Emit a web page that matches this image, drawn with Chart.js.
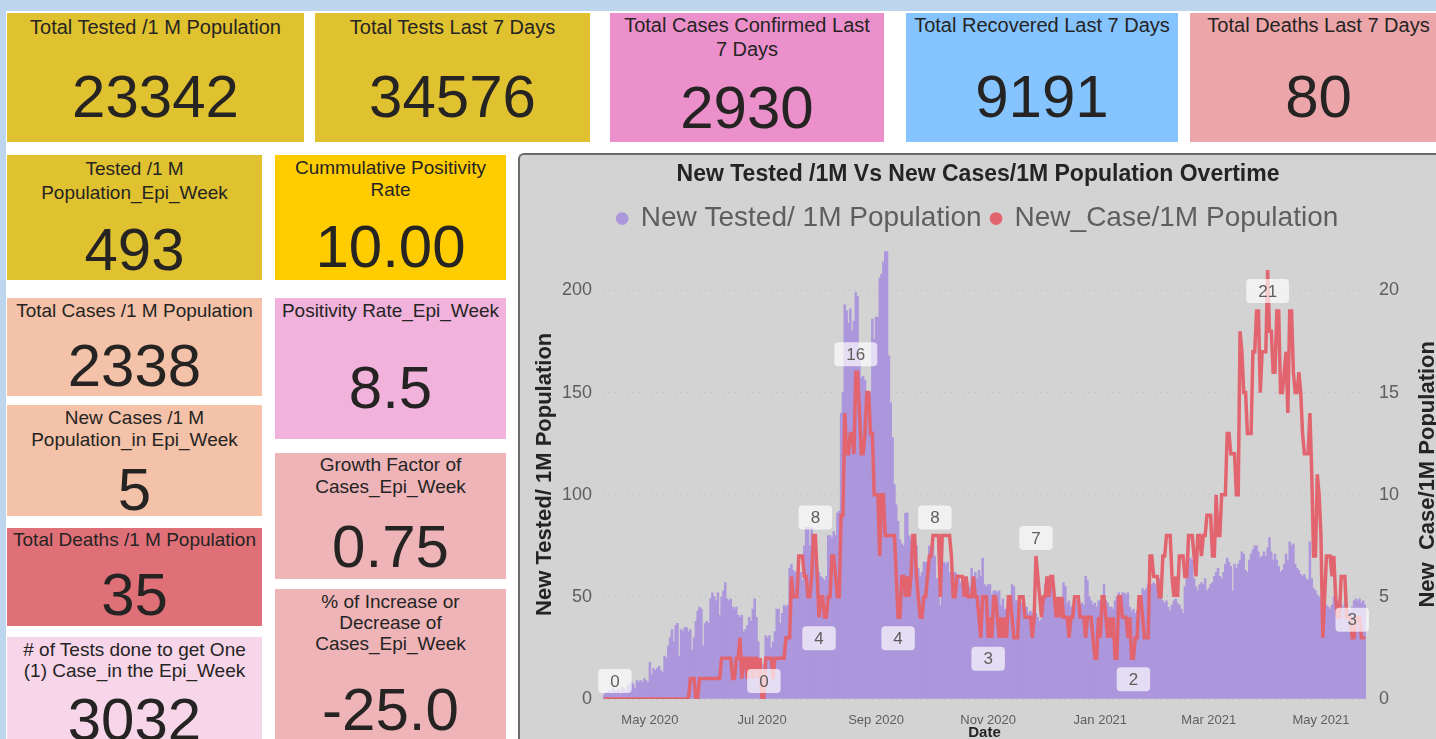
<!DOCTYPE html>
<html>
<head>
<meta charset="utf-8">
<script src="https://cdn.jsdelivr.net/npm/chart.js@4.4.0/dist/chart.umd.min.js"></script>
<style>
  body { margin:0; width:1436px; height:739px; overflow:hidden; background:#fff; position:relative;
         font-family:'Liberation Sans', Arial, sans-serif; color:#252423; }
  .strip { position:absolute; background:#BDD6EE; }
  .card { position:absolute; overflow:hidden; text-align:center; }
  .card .t { position:absolute; left:0; right:0; white-space:nowrap; }
  .card .v { position:absolute; left:0; right:0; font-size:60px; line-height:70px; }
  .top .t { font-size:20px; line-height:24px; }
  .mid .t { font-size:19px; line-height:22px; }
  #panel { position:absolute; left:518px; top:153px; width:930px; height:600px; background:#D3D3D3;
           border-left:2px solid #6b6b6b; border-top:2px solid #6b6b6b; border-top-left-radius:6px; }
  #c { position:absolute; left:520px; top:155px; }
</style>
</head>
<body>
<div class="strip" style="left:0;top:0;width:1436px;height:11px"></div>
<div class="strip" style="left:0;top:0;width:6px;height:739px"></div>

<div class="card top" style="left:7px;top:13px;width:297px;height:129px;background:#E0C12F">
  <div class="t" style="top:2px">Total Tested /1 M Population</div><div class="v" style="top:49px">23342</div></div>
<div class="card top" style="left:315px;top:13px;width:275px;height:129px;background:#E0C12F">
  <div class="t" style="top:2px">Total Tests Last 7 Days</div><div class="v" style="top:49px">34576</div></div>
<div class="card top" style="left:610px;top:13px;width:274px;height:129px;background:#EC90CC">
  <div class="t" style="top:0px">Total Cases Confirmed Last<br>7 Days</div><div class="v" style="top:60px">2930</div></div>
<div class="card top" style="left:906px;top:13px;width:272px;height:129px;background:#86C4FF">
  <div class="t" style="top:0px">Total Recovered Last 7 Days</div><div class="v" style="top:49px">9191</div></div>
<div class="card top" style="left:1190px;top:13px;width:257px;height:129px;background:#ECA6AA">
  <div class="t" style="top:0px">Total Deaths Last 7 Days</div><div class="v" style="top:49px">80</div></div>

<div class="card mid" style="left:7px;top:155px;width:255px;height:125px;background:#E0C12F">
  <div class="t" style="top:2px;line-height:24px">Tested /1 M<br>Population_Epi_Week</div><div class="v" style="top:60px">493</div></div>
<div class="card mid" style="left:275px;top:155px;width:231px;height:125px;background:#FFCC00">
  <div class="t" style="top:2px">Cummulative Positivity<br>Rate</div><div class="v" style="top:57px">10.00</div></div>
<div class="card mid" style="left:7px;top:298px;width:255px;height:98px;background:#F4C2A8">
  <div class="t" style="top:2px">Total Cases /1 M Population</div><div class="v" style="top:33px">2338</div></div>
<div class="card mid" style="left:275px;top:298px;width:231px;height:141px;background:#F1B3DB">
  <div class="t" style="top:2px">Positivity Rate_Epi_Week</div><div class="v" style="top:55px">8.5</div></div>
<div class="card mid" style="left:7px;top:405px;width:255px;height:111px;background:#F4C2A8">
  <div class="t" style="top:2px">New Cases /1 M<br>Population_in Epi_Week</div><div class="v" style="top:50px">5</div></div>
<div class="card mid" style="left:275px;top:453px;width:231px;height:126px;background:#EEB4B8">
  <div class="t" style="top:1px">Growth Factor of<br>Cases_Epi_Week</div><div class="v" style="top:59px">0.75</div></div>
<div class="card mid" style="left:7px;top:528px;width:255px;height:98px;background:#E07078">
  <div class="t" style="top:1px">Total Deaths /1 M Population</div><div class="v" style="top:32px">35</div></div>
<div class="card mid" style="left:275px;top:589px;width:231px;height:170px;background:#EEB4B8">
  <div class="t" style="top:2px;line-height:21px">% of Increase or<br>Decrease of<br>Cases_Epi_Week</div><div class="v" style="top:86px">-25.0</div></div>
<div class="card mid" style="left:7px;top:637px;width:255px;height:120px;background:#F8D6EA">
  <div class="t" style="top:2px;line-height:21px"># of Tests done to get One<br>(1) Case_in the Epi_Week</div><div class="v" style="top:48px">3032</div></div>

<div id="panel"></div>
<canvas id="c" width="916" height="589"></canvas>

<script>
// daily values from 6 Apr 2020 to 25 May 2021
const tested = [
  2,3,3,4,3,5,4,4,5,3,
  6,5,4,7,6,8,7,5,9,8,
  9,8,10,9,8,18,12,15,14,15,
  16,14,13,21,20,26,30,34,28,36,
  37,21,34,33,35,35,33,34,24,30,
  38,43,45,44,26,37,38,37,49,52,
  50,48,52,41,50,53,57,49,48,49,
  45,44,45,41,40,41,33,34,36,40,
  38,44,49,40,28,12,0,17,31,30,
  31,25,28,33,44,44,37,42,46,45,
  46,64,66,63,62,59,60,62,58,75,
  84,84,75,84,78,72,65,62,60,59,
  58,60,80,80,79,82,80,91,92,140,
  150,193,190,184,191,180,185,199,197,168,
  157,158,156,145,147,150,186,176,187,187,
  206,208,214,219,219,168,145,128,105,95,
  87,78,76,75,91,91,80,78,75,77,
  75,64,60,62,67,67,66,75,74,75,
  70,59,55,46,62,67,66,67,62,62,
  60,62,61,59,57,56,58,55,57,55,
  64,60,62,59,63,60,69,56,55,56,
  56,51,53,53,52,53,46,49,44,42,
  48,45,56,55,48,48,46,47,45,44,
  45,42,43,42,40,42,40,38,39,50,
  56,52,58,57,58,48,46,47,45,46,
  57,55,47,48,45,46,47,48,45,46,
  47,46,60,58,50,48,46,47,45,48,
  48,50,56,48,47,45,45,44,48,50,
  52,48,52,52,51,52,45,43,44,42,
  43,45,44,54,53,54,56,55,56,57,
  56,55,59,58,48,47,48,45,43,46,
  48,49,47,46,44,42,55,59,66,69,
  68,59,55,53,56,57,56,59,53,54,
  56,57,60,62,64,60,59,62,66,69,
  67,65,53,66,64,66,68,72,71,63,
  62,68,71,73,75,75,72,69,70,72,
  70,74,79,72,68,71,68,65,62,63,
  66,71,68,77,75,76,66,64,63,61,
  60,61,59,58,77,59,54,53,51,50,
  49,47,48,46,45,44,46,50,49,48,
  47,46,45,47,46,44,43,45,48,49,
  48,49,47,48,46
];

const cases = [
  0,0,0,0,0,0,0,0,0,0,
  0,0,0,0,0,0,0,0,0,0,
  0,0,0,0,0,0,0,0,0,0,
  0,0,0,0,0,0,0,0,0,0,
  0,0,0,0,0,0,0,1,1,1,
  0,0,1,1,1,1,1,1,1,1,
  1,1,1,1,2,2,2,2,2,2,
  1,1,2,2,3,1,2,2,1,2,
  2,1,2,2,1,2,0,0,2,2,
  2,2,1,2,2,2,2,2,2,3,
  3,3,6,5,5,5,7,7,7,6,
  6,5,5,6,8,8,6,4,5,5,
  4,4,5,5,7,7,6,5,5,9,
  9,14,12,12,13,13,12,16,16,14,
  12,12,13,15,15,13,13,10,10,10,
  7,10,10,8,8,8,8,8,8,6,
  4,4,6,6,5,6,5,6,8,8,
  6,5,4,4,5,5,6,7,7,8,
  8,8,8,5,8,8,8,8,8,7,
  5,5,6,6,6,6,5,6,5,5,
  5,6,5,5,4,3,5,5,5,3,
  4,3,5,5,4,3,4,3,4,3,
  5,5,4,3,3,3,5,5,5,4,
  4,4,4,3,4,7,6,5,4,5,
  5,6,5,6,6,5,4,5,4,5,
  4,4,4,3,4,4,5,5,5,4,
  4,4,3,4,4,4,3,2,2,4,
  3,5,5,4,3,4,3,4,2,2,
  5,5,4,4,4,3,4,2,2,3,
  3,5,5,4,3,3,3,7,7,6,
  6,6,5,5,7,7,8,8,8,6,
  5,6,5,7,7,7,6,6,8,8,
  8,7,6,8,8,7,8,8,9,9,
  9,7,7,10,8,8,10,10,10,13,
  13,12,12,12,10,10,18,17,15,15,
  13,13,13,17,17,19,19,15,17,17,
  17,21,18,18,16,16,19,19,15,15,
  16,17,14,19,19,16,15,15,16,15,
  13,12,12,12,14,11,7,7,11,10,
  8,3,5,7,7,7,6,7,5,4,
  4,6,6,6,4,4,4,3,3,4,
  4,4,3,3,3
];

const leftTicks = [0, 50, 100, 150, 200];
const rightTicks = [0, 5, 10, 15, 20];
// which points of the case line get a value box, and where
const caseLabels = [[6, 'above'], [87, 'above'], [115, 'above'], [117, 'below'], [137, 'above'],
  [160, 'below'], [180, 'above'], [209, 'below'], [235, 'above'], [288, 'below'], [361, 'below'], [407, 'above']];
const monthNames = ['Jan', 'Feb', 'Mar', 'Apr', 'May', 'Jun', 'Jul', 'Aug', 'Sep', 'Oct', 'Nov', 'Dec'];

const PURPLE = '#AC96DC';
const RED = '#E2646F';
const GREY = '#605E5C';

const dates = tested.map((v, i) => new Date(2020, 3, 6 + i));
const labels = dates.map(d => d.getFullYear() + '-' + (d.getMonth() + 1) + '-' + d.getDate());

Chart.defaults.font.family = "'Liberation Sans', Arial, sans-serif";

// extra room under the legend
const legendGap = {
    id: 'legendGap',
    beforeInit(chart) {
        const fit = chart.legend.fit;
        chart.legend.fit = function () {
            fit.call(this);
            this.height += 7;
        };
    }
};

// value boxes on the case line
const valueBoxes = {
    id: 'valueBoxes',
    afterDatasetsDraw(chart) {
        const meta = chart.getDatasetMeta(1);
        const ctx = chart.ctx;
        ctx.save();
        ctx.font = "17px 'Liberation Sans', Arial, sans-serif";
        ctx.textAlign = 'center';
        ctx.textBaseline = 'middle';
        caseLabels.forEach(([i, side]) => {
            const pt = meta.data[i];
            const txt = String(cases[i]);
            const w = ctx.measureText(txt).width + 24;
            const h = 24;
            const cy = side === 'above' ? pt.y - 18 : pt.y + 21;
            ctx.fillStyle = 'rgba(255,255,255,0.68)';
            ctx.beginPath();
            ctx.roundRect(pt.x - w / 2, cy - h / 2, w, h, 4);
            ctx.fill();
            ctx.fillStyle = GREY;
            ctx.fillText(txt, pt.x, cy + 1);
        });
        ctx.restore();
    }
};

// right axis title reads bottom to top like the left one
const rightTitle = {
    id: 'rightTitle',
    afterDraw(chart) {
        const {ctx, chartArea} = chart;
        ctx.save();
        ctx.translate(chart.scales.y1.right - 8, (chartArea.top + chartArea.bottom) / 2);
        ctx.rotate(-Math.PI / 2);
        ctx.font = "bold 22px 'Liberation Sans', Arial, sans-serif";
        ctx.fillStyle = '#252423';
        ctx.textAlign = 'center';
        ctx.textBaseline = 'middle';
        ctx.fillText('New_Case/1M Population', 0, 0);
        ctx.restore();
    }
};

new Chart(document.getElementById('c'), {
    type: 'bar',
    data: {
        labels: labels,
        datasets: [
            {
                type: 'bar',
                label: 'New Tested/ 1M Population',
                data: tested,
                backgroundColor: PURPLE,
                barPercentage: 1,
                categoryPercentage: 1,
                yAxisID: 'y',
                order: 2
            },
            {
                type: 'line',
                label: 'New_Case/1M Population',
                data: cases,
                borderColor: RED,
                backgroundColor: RED,
                borderWidth: 3.5,
                pointRadius: 0,
                tension: 0,
                yAxisID: 'y1',
                order: 1
            }
        ]
    },
    options: {
        responsive: false,
        animation: false,
        events: [],
        plugins: {
            title: {
                display: true,
                text: 'New Tested /1M Vs New Cases/1M Population Overtime',
                color: '#252423',
                font: {size: 23, weight: 'bold'},
                padding: {top: 6, bottom: 6}
            },
            legend: {
                display: true,
                labels: {
                    usePointStyle: true,
                    pointStyle: 'circle',
                    boxWidth: 9,
                    boxHeight: 9,
                    padding: 10,
                    color: GREY,
                    font: {size: 28},
                    sort: (a, b) => a.datasetIndex - b.datasetIndex,
                    generateLabels: chart => Chart.defaults.plugins.legend.labels.generateLabels(chart)
                        .map(l => ({...l, lineWidth: 0, strokeStyle: 'rgba(0,0,0,0)'}))
                }
            },
            tooltip: {enabled: false}
        },
        scales: {
            x: {
                grid: {display: false},
                border: {display: false},
                afterFit: s => { s.height = 45; },
                ticks: {
                    autoSkip: false,
                    maxRotation: 0,
                    minRotation: 0,
                    padding: 6,
                    color: GREY,
                    font: {size: 13},
                    callback: function (value, index) {
                        const d = dates[index];
                        return (d.getDate() === 1 && d.getMonth() % 2 === 0) ? monthNames[d.getMonth()] + ' ' + d.getFullYear() : '';
                    }
                },
                title: {
                    display: true,
                    text: 'Date',
                    color: '#252423',
                    font: {size: 15, weight: 'bold'},
                    padding: {top: 0, bottom: 2}
                }
            },
            y: {
                position: 'left',
                min: 0,
                max: 220,
                afterBuildTicks: s => { s.ticks = leftTicks.map(v => ({value: v})); },
                afterFit: s => { s.width = 83; },
                grid: {color: 'rgba(0,0,0,0.12)', drawTicks: false},
                border: {display: false, dash: [1, 5]},
                ticks: {color: GREY, font: {size: 18}, padding: 11},
                title: {
                    display: true,
                    text: 'New Tested/ 1M Population',
                    color: '#252423',
                    font: {size: 22, weight: 'bold'},
                    padding: {top: 12, bottom: 0}
                }
            },
            y1: {
                position: 'right',
                min: 0,
                max: 22,
                afterBuildTicks: s => { s.ticks = rightTicks.map(v => ({value: v})); },
                afterFit: s => { s.width = 70; },
                grid: {display: false, drawTicks: false},
                border: {display: false},
                ticks: {color: GREY, font: {size: 18}, padding: 13}
            }
        }
    },
    plugins: [legendGap, valueBoxes, rightTitle]
});
</script>
</body>
</html>
